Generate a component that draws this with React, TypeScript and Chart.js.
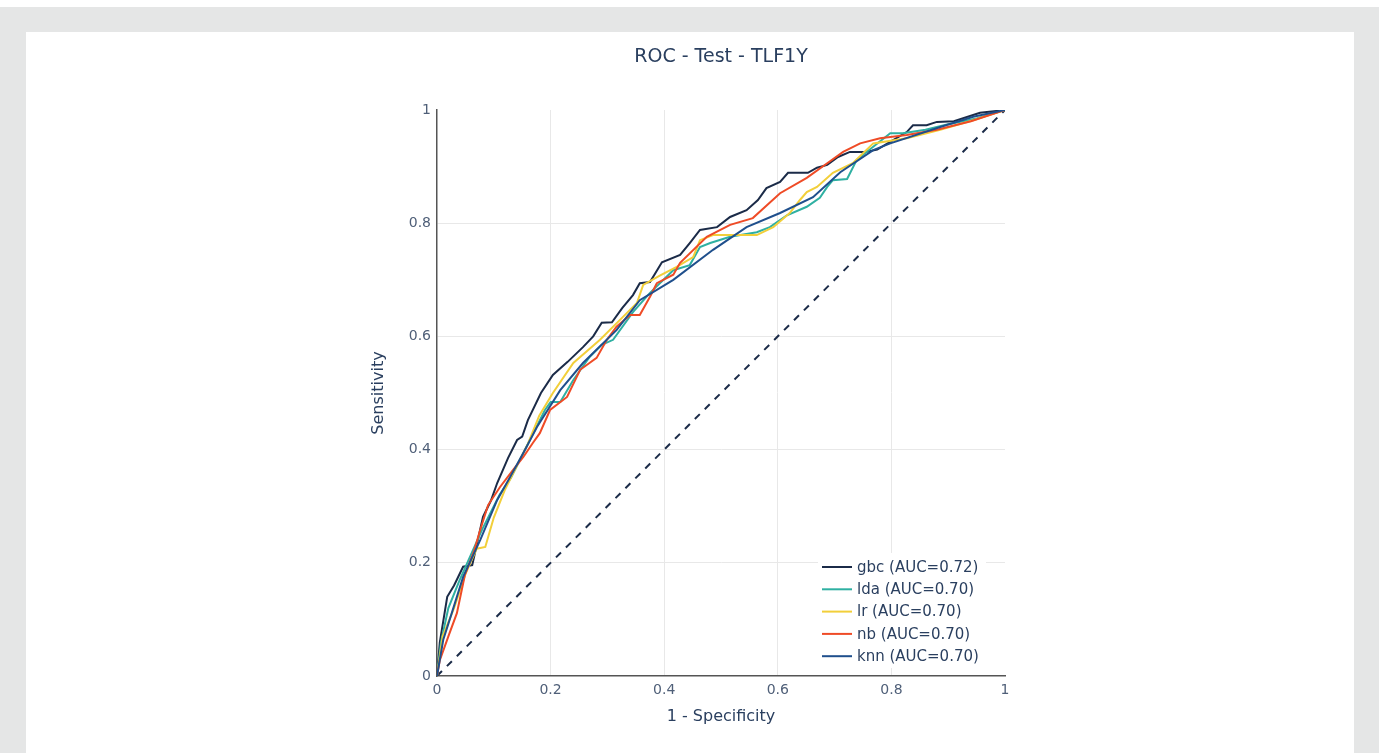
import React, { useEffect, useRef } from "react";
import { Chart, registerables } from "chart.js";

Chart.register(...registerables);

// ---------- data ----------
const chartTitle = "ROC - Test - TLF1Y";
const xAxisTitle = "1 - Specificity";
const yAxisTitle = "Sensitivity";

const modelNames = ["gbc", "lda", "lr", "nb", "knn"];
const aucValues = ["0.72", "0.70", "0.70", "0.70", "0.70"];
const modelColors = ["#1b2b48", "#2fb0a2", "#f2cf3a", "#ef4b26", "#1f4f8c"];

const tickValues = [0, 0.2, 0.4, 0.6, 0.8, 1];
const tickLabels = ["0", "0.2", "0.4", "0.6", "0.8", "1"];

const gbcFpr = [0, 0.005, 0.018, 0.03, 0.046, 0.062, 0.081, 0.095, 0.106, 0.125, 0.141, 0.15, 0.16, 0.183, 0.204, 0.23, 0.257, 0.275, 0.29, 0.308, 0.326, 0.345, 0.357, 0.375, 0.396, 0.428, 0.445, 0.463, 0.493, 0.516, 0.545, 0.565, 0.58, 0.604, 0.618, 0.653, 0.669, 0.687, 0.706, 0.727, 0.754, 0.775, 0.8, 0.827, 0.838, 0.862, 0.88, 0.91, 0.956, 1];
const gbcTpr = [0, 0.06, 0.14, 0.16, 0.193, 0.196, 0.281, 0.31, 0.341, 0.385, 0.417, 0.423, 0.452, 0.5, 0.532, 0.555, 0.581, 0.6, 0.624, 0.625, 0.65, 0.673, 0.694, 0.696, 0.731, 0.744, 0.765, 0.788, 0.793, 0.811, 0.823, 0.841, 0.862, 0.873, 0.889, 0.889, 0.898, 0.903, 0.917, 0.926, 0.926, 0.93, 0.945, 0.961, 0.973, 0.973, 0.979, 0.98, 0.995, 1];

const ldaFpr = [0, 0.007, 0.02, 0.04, 0.06, 0.08, 0.095, 0.11, 0.13, 0.15, 0.17, 0.19, 0.2, 0.217, 0.24, 0.269, 0.29, 0.31, 0.345, 0.375, 0.416, 0.445, 0.463, 0.481, 0.516, 0.563, 0.586, 0.616, 0.651, 0.674, 0.687, 0.697, 0.722, 0.739, 0.768, 0.798, 0.82, 0.86, 0.9, 0.95, 1];
const ldaTpr = [0, 0.06, 0.12, 0.17, 0.215, 0.26, 0.29, 0.32, 0.35, 0.39, 0.43, 0.47, 0.484, 0.484, 0.523, 0.564, 0.585, 0.594, 0.643, 0.677, 0.717, 0.726, 0.758, 0.765, 0.776, 0.784, 0.793, 0.814, 0.829, 0.845, 0.864, 0.876, 0.878, 0.912, 0.935, 0.959, 0.959, 0.965, 0.975, 0.985, 1];

const lrFpr = [0, 0.01, 0.03, 0.05, 0.07, 0.085, 0.1, 0.12, 0.14, 0.16, 0.18, 0.204, 0.24, 0.287, 0.327, 0.352, 0.363, 0.393, 0.422, 0.451, 0.463, 0.486, 0.563, 0.592, 0.621, 0.639, 0.651, 0.669, 0.697, 0.732, 0.768, 0.827, 0.886, 0.944, 1];
const lrTpr = [0, 0.07, 0.12, 0.18, 0.225, 0.228, 0.28, 0.33, 0.37, 0.41, 0.46, 0.5, 0.553, 0.594, 0.634, 0.659, 0.691, 0.708, 0.723, 0.74, 0.77, 0.779, 0.779, 0.793, 0.818, 0.841, 0.855, 0.864, 0.889, 0.906, 0.941, 0.95, 0.965, 0.982, 1];

const nbFpr = [0, 0.005, 0.02, 0.035, 0.049, 0.065, 0.076, 0.09, 0.111, 0.134, 0.152, 0.169, 0.181, 0.199, 0.229, 0.252, 0.281, 0.299, 0.316, 0.34, 0.357, 0.375, 0.387, 0.416, 0.428, 0.475, 0.516, 0.556, 0.604, 0.651, 0.687, 0.715, 0.745, 0.78, 0.827, 0.88, 0.94, 1];
const nbTpr = [0, 0.028, 0.07, 0.111, 0.178, 0.22, 0.258, 0.302, 0.334, 0.364, 0.387, 0.412, 0.429, 0.47, 0.493, 0.541, 0.562, 0.594, 0.617, 0.638, 0.638, 0.67, 0.694, 0.709, 0.73, 0.776, 0.797, 0.809, 0.853, 0.88, 0.906, 0.926, 0.941, 0.95, 0.956, 0.965, 0.98, 1];

const knnFpr = [0, 0.011, 0.026, 0.046, 0.076, 0.106, 0.129, 0.152, 0.176, 0.217, 0.257, 0.316, 0.357, 0.416, 0.486, 0.545, 0.604, 0.662, 0.71, 0.768, 0.798, 0.886, 0.944, 1];
const knnTpr = [0, 0.064, 0.111, 0.175, 0.24, 0.311, 0.352, 0.394, 0.44, 0.505, 0.553, 0.611, 0.664, 0.7, 0.753, 0.793, 0.818, 0.846, 0.89, 0.929, 0.941, 0.97, 0.988, 1];

const chanceFpr = [0, 1];
const chanceTpr = [0, 1];

const seriesFpr = [gbcFpr, ldaFpr, lrFpr, nbFpr, knnFpr];
const seriesTpr = [gbcTpr, ldaTpr, lrTpr, nbTpr, knnTpr];

// ---------- styles ----------
const FONT = '"DejaVu Sans", Verdana, sans-serif';
const TEXT_COLOR = "#2a3f5f";
const TICK_COLOR = "#4f5f78";

const toPoints = (xs: number[], ys: number[]) => xs.map((x, i) => ({ x, y: ys[i] }));

const insideLegend = {
  id: "insideLegend",
  afterDatasetsDraw(chart: any) {
    const { ctx, chartArea } = chart;
    ctx.save();
    const boxX = chartArea.right - 187;
    const boxY = chartArea.bottom - 123;
    ctx.fillStyle = "#ffffff";
    ctx.fillRect(boxX, boxY, 168, 115);
    ctx.font = `15px ${FONT}`;
    ctx.textBaseline = "middle";
    ctx.textAlign = "left";
    modelNames.forEach((name, i) => {
      const y = chartArea.bottom - 109 + i * 22.3;
      const x = chartArea.right - 183;
      ctx.strokeStyle = modelColors[i];
      ctx.lineWidth = 2;
      ctx.beginPath();
      ctx.moveTo(x, y);
      ctx.lineTo(x + 30, y);
      ctx.stroke();
      ctx.fillStyle = TEXT_COLOR;
      ctx.fillText(`${name} (AUC=${aucValues[i]})`, x + 35, y + 1);
    });
    ctx.restore();
  },
};

const gridColor = (c: any) => {
  const v = c.tick ? c.tick.value : null;
  if (v === null) return "#e8e8e8";
  if (Math.abs(v) < 1e-9 || Math.abs(v - 1) < 1e-9) return "rgba(0,0,0,0)";
  return "#e8e8e8";
};

const tickCallback = (value: any) => {
  const idx = tickValues.findIndex((t) => Math.abs(t - Number(value)) < 1e-6);
  return idx >= 0 ? tickLabels[idx] : "";
};

export default function App() {
  const canvasRef = useRef<HTMLCanvasElement | null>(null);

  useEffect(() => {
    if (!canvasRef.current) return;
    const datasets: any[] = modelNames.map((name, i) => ({
      label: `${name} (AUC=${aucValues[i]})`,
      data: toPoints(seriesFpr[i], seriesTpr[i]),
      borderColor: modelColors[i],
      backgroundColor: modelColors[i],
      borderWidth: 2,
      pointRadius: 0,
      tension: 0,
      fill: false,
      order: modelNames.length - 1 - i,
    }));
    datasets.push({
      label: "chance",
      data: toPoints(chanceFpr, chanceTpr),
      borderColor: "#1b2b48",
      borderWidth: 2,
      borderDash: [7, 7],
      pointRadius: 0,
      fill: false,
      order: 10,
    });

    const chart = new Chart(canvasRef.current, {
      type: "line",
      data: { datasets },
      plugins: [insideLegend],
      options: {
        animation: false,
        responsive: false,
        layout: { padding: { left: 0, top: 0, right: 376, bottom: 0 } },
        plugins: {
          legend: { display: false },
          tooltip: { enabled: false },
          title: {
            display: true,
            text: chartTitle,
            fullSize: false,
            color: TEXT_COLOR,
            font: { family: FONT, size: 19, weight: "normal" },
            padding: { top: 45.6, bottom: 41.6 },
          },
        },
        scales: {
          x: {
            type: "linear",
            min: 0,
            max: 1,
            afterFit: (s: any) => {
              s.height = 77;
            },
            afterBuildTicks: (s: any) => {
              s.ticks = tickValues.map((v) => ({ value: v }));
            },
            ticks: {
              callback: tickCallback,
              color: TICK_COLOR,
              font: { family: FONT, size: 14 },
              padding: 6,
              maxRotation: 0,
              autoSkip: false,
            },
            grid: { color: gridColor, lineWidth: 1, drawTicks: false },
            border: { display: true, color: "#555555", width: 1.5 },
            title: {
              display: true,
              text: xAxisTitle,
              color: TEXT_COLOR,
              font: { family: FONT, size: 16 },
              padding: { top: 0, bottom: 26.4 },
            },
          },
          y: {
            type: "linear",
            min: 0,
            max: 1,
            afterFit: (s: any) => {
              s.width = 437;
            },
            afterBuildTicks: (s: any) => {
              s.ticks = tickValues.map((v) => ({ value: v }));
            },
            ticks: {
              callback: tickCallback,
              color: TICK_COLOR,
              font: { family: FONT, size: 14 },
              padding: 6,
              autoSkip: false,
            },
            grid: { color: gridColor, lineWidth: 1, drawTicks: false },
            border: { display: true, color: "#555555", width: 1.5 },
            title: {
              display: true,
              text: yAxisTitle,
              color: TEXT_COLOR,
              font: { family: FONT, size: 16 },
              padding: { top: 369.4, bottom: 0 },
            },
          },
        },
      },
    });
    return () => chart.destroy();
  }, []);

  return (
    <div style={{ position: "fixed", left: 0, top: 0, width: 1381, height: 753, background: "#ffffff", overflow: "hidden" }}>
      <div style={{ position: "absolute", left: 0, top: 7, width: 1379, height: 746, background: "#e5e6e6" }} />
      <div style={{ position: "absolute", left: 26, top: 32, width: 1328, height: 721, background: "#ffffff" }} />
      <canvas ref={canvasRef} width={1381} height={753} style={{ position: "absolute", left: 0, top: 0, display: "block" }} />
    </div>
  );
}
